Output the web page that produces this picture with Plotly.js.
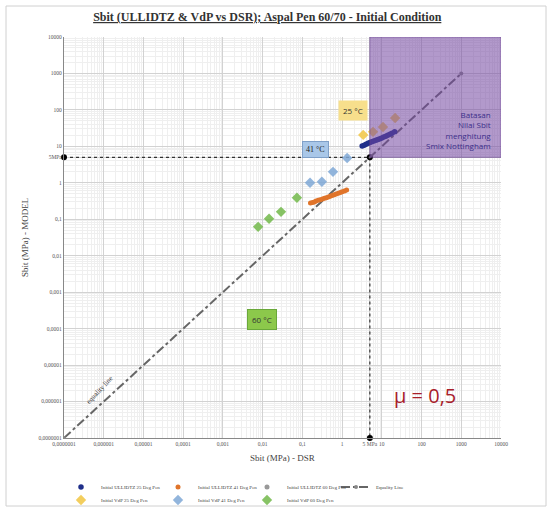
<!DOCTYPE html>
<html>
<head>
<meta charset="utf-8">
<script src="https://cdn.plot.ly/plotly-3.0.1.min.js"></script>
<style>
html,body{margin:0;padding:0;background:#fff;}
#chart{width:551px;height:510px;}
</style>
</head>
<body>
<div id="chart"></div>
<script>
// ---- data (MPa) ----
const ull25X = [3.2, 3.6, 4.0, 4.5, 5.0, 5.6, 6.3, 7.1, 8.0, 9.0, 10.0, 11.2, 12.6, 14.1, 16.0, 18.0, 21.0];
const ull25Y = [10.3, 10.8, 11.5, 12.1, 12.7, 13.3, 14.0, 14.7, 15.5, 16.2, 17.0, 18.0, 19.0, 20.2, 21.5, 23.0, 25.0];
const ull41X = [0.16, 0.18, 0.2, 0.22, 0.25, 0.28, 0.32, 0.36, 0.4, 0.45, 0.5, 0.56, 0.63, 0.71, 0.8, 0.9, 1.0, 1.15, 1.3];
const ull41Y = [0.28, 0.29, 0.30, 0.315, 0.33, 0.345, 0.36, 0.375, 0.39, 0.41, 0.43, 0.45, 0.47, 0.495, 0.52, 0.545, 0.57, 0.60, 0.64];
const ull60X = [null];
const ull60Y = [null];
const vdp25X = [3.4, 6.0, 10.7, 21.6];
const vdp25Y = [20.6, 25, 34, 60];
const vdp41X = [0.156, 0.31, 0.59, 1.34];
const vdp41Y = [1.0, 1.07, 2.0, 4.8];
const vdp60X = [0.0077, 0.0145, 0.029, 0.073];
const vdp60Y = [0.062, 0.103, 0.16, 0.39];
const eqX = [0.0000001, 1000];
const eqY = [0.0000001, 1000];
const refX = [0.0000001, 5, 5];
const refY = [5, 5, 0.0000001];
const limitX = [5, 10000];
const limitY = [5, 10000];
const tickVals = [0.0000001, 0.000001, 0.00001, 0.0001, 0.001, 0.01, 0.1, 1, 5, 10, 100, 1000, 10000];
const xTickText = ["0,0000001","0,000001","0,00001","0,0001","0,001","0,01","0,1","1","5 MPa","10","100","1000","10000"];
const yTickText = ["0,0000001","0,000001","0,00001","0,0001","0,001","0,01","0,1","1","5MPa","10","100","1000","10000"];
const names = {
  ull25: "Initial ULLIDTZ 25 Deg Pen",
  ull41: "Initial ULLIDTZ 41 Deg Pen",
  ull60: "Initial ULLIDTZ 60 Deg Pen",
  eq: "Equality Line",
  vdp25: "Initial VdP 25 Deg Pen",
  vdp41: "Initial VdP 41 Deg Pen",
  vdp60: "Initial VdP 60 Deg Pen"
};

const serif = "Liberation Serif, serif";
const sans = "Open Sans, sans-serif";

const traces = [
  {x: refX, y: refY, mode: 'lines+markers', showlegend: false, cliponaxis: false,
   line: {color: '#333', width: 1.2, dash: 'dot'}, marker: {color: '#000', size: 6}},
  {x: eqX, y: eqY, name: names.eq, legend: 'legend4', mode: 'lines+markers',
   line: {color: '#666', width: 2, dash: 'dashdot'}, marker: {color: '#888', size: 4}},
  {x: vdp60X, y: vdp60Y, name: names.vdp60, legend: 'legend7', mode: 'markers',
   marker: {symbol: 'diamond', color: '#72b84a', size: 8, opacity: 0.85}},
  {x: vdp41X, y: vdp41Y, name: names.vdp41, legend: 'legend6', mode: 'markers',
   marker: {symbol: 'diamond', color: '#7fa8d6', size: 8, opacity: 0.85}},
  {x: vdp25X, y: vdp25Y, name: names.vdp25, legend: 'legend5', mode: 'markers',
   marker: {symbol: 'diamond', color: '#f2c94c', size: 8, opacity: 0.9}},
  {x: ull60X, y: ull60Y, name: names.ull60, legend: 'legend3', mode: 'markers',
   marker: {color: '#999', size: 5}},
  {x: ull41X, y: ull41Y, name: names.ull41, legend: 'legend2', mode: 'markers',
   marker: {color: '#e0742a', size: 5}},
  {x: ull25X, y: ull25Y, name: names.ull25, legend: 'legend', mode: 'markers',
   marker: {color: '#1f2f8a', size: 5.5}}
];

function px2x(p){ return (p - 64) / 437; }
function py2y(p){ return (438 - p) / 401; }

const axisCommon = {
  type: 'log', tickmode: 'array', tickvals: tickVals, tickangle: 0,
  tickfont: {family: serif, size: 5.5, color: '#555'},
  showgrid: true, gridcolor: '#d2d2d2', gridwidth: 1,
  minor: {dtick: 'D1', showgrid: true, gridcolor: '#efefef', gridwidth: 1, ticklen: 0},
  showline: true, linecolor: '#888', linewidth: 1.2,
  zeroline: false, ticks: '', automargin: false
};

const legendFont = {family: serif, size: 5, color: '#444'};
function leg(markerPx, rowPy){
  return {orientation: 'h', x: px2x(markerPx - 20), xanchor: 'left', y: py2y(rowPy), yanchor: 'middle',
          font: legendFont, bgcolor: 'rgba(0,0,0,0)'};
}

const layout = {
  width: 551, height: 510,
  margin: {l: 64, r: 50, t: 37, b: 72, autoexpand: false},
  paper_bgcolor: '#fff', plot_bgcolor: '#fff',
  title: {text: '<b><u>Sbit (ULLIDTZ &amp; VdP vs DSR); Aspal Pen 60/70 - Initial Condition</u></b>',
          font: {family: serif, size: 12, color: '#333'}, x: 0.485, xanchor: 'center', y: 0.967, yanchor: 'middle'},
  xaxis: Object.assign({}, axisCommon, {range: [-7, 4], ticktext: xTickText,
    title: {text: 'Sbit (MPa) - DSR', font: {family: serif, size: 9, color: '#444'}, standoff: 8}}),
  yaxis: Object.assign({}, axisCommon, {range: [-7, 4], ticktext: yTickText,
    title: {text: 'Sbit (MPa) - MODEL', font: {family: serif, size: 9, color: '#444'}, standoff: 8}}),
  legend: leg(81, 487),
  legend2: leg(178, 487),
  legend3: leg(267, 487),
  legend4: leg(356, 487),
  legend5: leg(81, 500),
  legend6: leg(178, 500),
  legend7: leg(267, 500),
  shapes: [
    {type: 'rect', xref: 'x', yref: 'y', x0: limitX[0], x1: limitX[1], y0: limitY[0], y1: limitY[1],
     fillcolor: 'rgba(115,70,160,0.55)', line: {color: 'rgba(100,60,140,0.6)', width: 1}, layer: 'above'},
    {type: 'rect', xref: 'paper', yref: 'paper', x0: px2x(6), x1: px2x(546), y0: py2y(506), y1: py2y(6),
     line: {color: '#d0d0d0', width: 1}, fillcolor: 'rgba(0,0,0,0)', layer: 'below'}
  ],
  annotations: [
    {xref: 'paper', yref: 'paper', x: px2x(368), y: py2y(100), text: '25 °C', showarrow: false,
     font: {family: sans, size: 8, color: '#333'}, bgcolor: '#f7df8c', borderpad: 4},
    {xref: 'paper', yref: 'paper', x: px2x(315), y: py2y(141), text: '41 °C', showarrow: false,
     font: {family: serif, size: 8, color: '#222'}, bgcolor: '#a9c7e8', bordercolor: '#7fa0c8', borderwidth: 1, borderpad: 3},
    {xref: 'paper', yref: 'paper', x: px2x(262), y: py2y(330), text: '60 °C', showarrow: false,
     font: {family: sans, size: 8, color: '#333'}, bgcolor: '#8cc84b', bordercolor: '#6aa83a', borderwidth: 1, borderpad: 4},
    {xref: 'paper', yref: 'paper', x: px2x(493), y: py2y(130), xanchor: 'right', yanchor: 'middle', align: 'right',
     text: 'Batasan<br>Nilai Sbit<br>menghitung<br>Smix Nottingham', showarrow: false,
     font: {family: sans, size: 8, color: '#3b2f8a'}},
    {xref: 'paper', yref: 'paper', x: px2x(458), y: py2y(411), text: 'µ = 0,5', showarrow: false,
     font: {family: sans, size: 20, color: '#a8202a'}},
    {xref: 'paper', yref: 'paper', x: px2x(82), y: py2y(408), text: 'equality line', showarrow: false,
     textangle: -47, font: {family: serif, size: 7, color: '#333'}}
  ]
};

Plotly.newPlot('chart', traces, layout, {displayModeBar: false, responsive: false});
</script>
</body>
</html>
